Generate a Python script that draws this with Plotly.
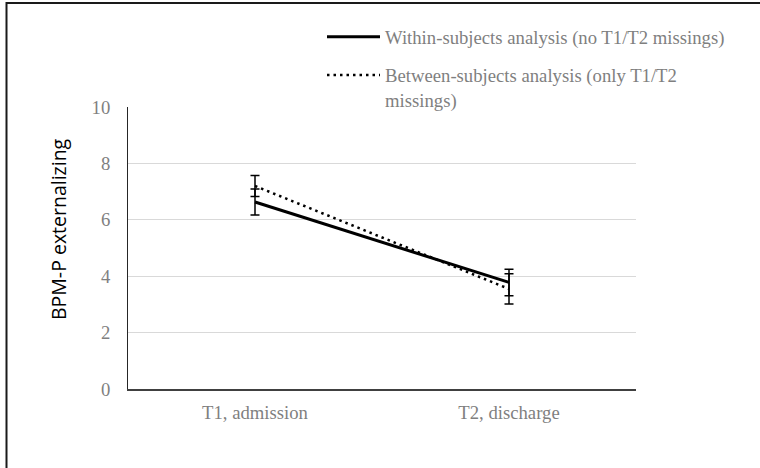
import plotly.graph_objects as go

categories = ["T1, admission", "T2, discharge"]
within_mean = [6.63, 3.78]
within_err = [0.46, 0.47]
between_mean = [7.20, 3.55]
between_err = [0.37, 0.54]
y_ticks = [0, 2, 4, 6, 8, 10]
y_title = "BPM-P externalizing"
name_within = "Within-subjects analysis (no T1/T2 missings)"
name_between = "Between-subjects analysis (only T1/T2<br>missings)"

W, H = 760, 468
L, R, T, B = 128, 124, 107, 79
pw, ph = W - L - R, H - T - B

serif = "Liberation Serif, Times New Roman, serif"
grey = "#7f7f7f"

fig = go.Figure()
fig.add_trace(go.Scatter(
    x=categories, y=within_mean, mode="lines", name=name_within,
    legendgroup="a",
    line=dict(color="black", width=3),
    error_y=dict(type="data", array=within_err, visible=True,
                 color="black", thickness=1.5, width=4.5),
))
fig.add_trace(go.Scatter(
    x=categories, y=between_mean, mode="lines", name=name_between,
    legendgroup="b",
    line=dict(color="black", width=2.5, dash="2.5px,4px"),
    error_y=dict(type="data", array=between_err, visible=True,
                 color="black", thickness=1.5, width=4.5),
))

def px_x(p):
    return (p - L) / pw

def px_y(p):
    return (H - B - p) / ph

fig.update_layout(
    width=W, height=H,
    margin=dict(l=L, r=R, t=T, b=B, pad=0, autoexpand=False),
    paper_bgcolor="white", plot_bgcolor="white",
    showlegend=True,
    legend=dict(
        xref="container", yref="container",
        x=322 / W, y=1 - 18 / H, xanchor="left", yanchor="top",
        font=dict(family=serif, size=18.7, color=grey),
        itemwidth=53, valign="top", tracegroupgap=11,
        bgcolor="rgba(0,0,0,0)",
    ),
    xaxis=dict(
        type="category", range=[-0.5, 1.5],
        showgrid=False, showline=True, linecolor="#404040", linewidth=2,
        ticks="outside", ticklen=6, tickcolor="rgba(0,0,0,0)",
        tickfont=dict(family=serif, size=18.7, color=grey),
        zeroline=False, automargin=False,
    ),
    yaxis=dict(
        range=[0, 10], tickvals=y_ticks, ticktext=[str(v) for v in y_ticks],
        showgrid=True, gridcolor="#d9d9d9", gridwidth=1,
        showline=True, linecolor="#262626", linewidth=1,
        ticks="outside", ticklen=13, tickcolor="rgba(0,0,0,0)",
        tickfont=dict(family=serif, size=18.7, color=grey),
        zeroline=False, automargin=False,
    ),
    annotations=[
        dict(text=y_title, xref="paper", yref="paper",
             x=px_x(58), y=px_y(229), xanchor="center", yanchor="middle",
             textangle=-90, showarrow=False,
             font=dict(family="Open Sans, sans-serif", size=19.5, color="black")),
    ],
    shapes=[
        dict(type="rect", xref="paper", yref="paper",
             x0=px_x(6.5), x1=px_x(W + 20), y0=px_y(H + 20), y1=px_y(3),
             line=dict(color="#1a1a1a", width=2), fillcolor="rgba(0,0,0,0)",
             layer="below"),
    ],
)

fig.write_html("out.html")
